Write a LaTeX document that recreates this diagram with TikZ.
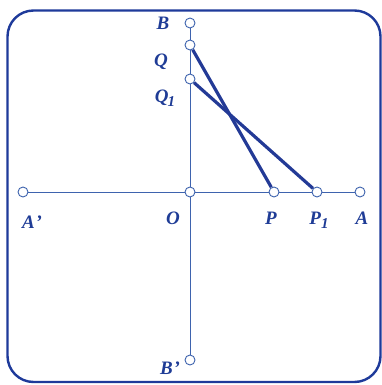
\documentclass[tikz,border=0pt]{standalone}
\usepackage{fontspec}
\setmainfont{Liberation Serif}
\begin{document}
\begin{tikzpicture}[x=1pt,y=-1pt]
\definecolor{frame}{HTML}{1E3A9A}
\definecolor{axis}{HTML}{3E63AE}
\definecolor{thick}{HTML}{233A96}
\definecolor{lab}{HTML}{1F3C96}
\tikzset{
  pt/.style={circle,draw=axis,fill=white,line width=0.9pt,minimum size=10pt,inner sep=0pt},
  lbl/.style={text=lab,font=\fontsize{19}{21}\selectfont\bfseries\itshape,inner sep=0pt},
  axisline/.style={draw=axis,line width=1pt},
  seg/.style={draw=thick,line width=3.2pt},
  box/.style={draw=frame,line width=2.4pt,rounded corners=26pt}
}
\useasboundingbox (0,0) rectangle (382,385);
\fill[white] (0,0) rectangle (382,385);
\path[box] (7.5,10.5) rectangle (380.5,382);
% points
\node[pt] (B) at (190,23) {};
\node[pt] (Q) at (190,45) {};
\node[pt] (Q1) at (190,79) {};
\node[pt] (O) at (190,192) {};
\node[pt] (Bp) at (190,360) {};
\node[pt] (Ap) at (23,192) {};
\node[pt] (P) at (274,192) {};
\node[pt] (P1) at (317,192) {};
\node[pt] (A) at (360,192) {};
% axes
\path[axisline] (B) -- (Q) -- (Q1) -- (O) -- (Bp);
\path[axisline] (Ap) -- (O) -- (P) -- (P1) -- (A);
% segments
\path[seg] (Q) -- (P);
\path[seg] (Q1) -- (P1);
% labels
\node[lbl] (lB) at (163,23) {B};
\node[lbl] (lQ) at (161,62) {Q};
\node[lbl] (lQ1) at (165,98) {Q\kern-1pt\raisebox{-4pt}{\fontsize{15}{16}\selectfont 1}};
\node[lbl] (lAp) at (32,222) {A\kern1pt’};
\node[lbl] (lO) at (173,218) {O};
\node[lbl] (lP) at (271,218) {P};
\node[lbl] (lP1) at (319,220) {P\raisebox{-4pt}{\fontsize{15}{16}\selectfont 1}};
\node[lbl] (lA) at (362,218) {A};
\node[lbl] (lBp) at (170,368) {B\kern1pt’};
\end{tikzpicture}
\end{document}
